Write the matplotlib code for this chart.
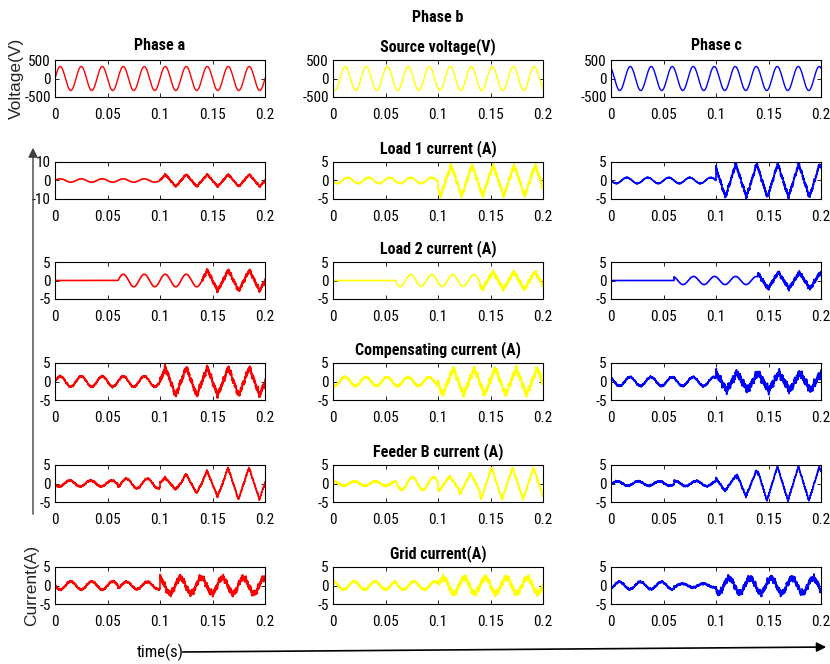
import numpy as np
import matplotlib
matplotlib.use('Agg')
import matplotlib.pyplot as plt
from matplotlib.patches import FancyArrowPatch

plt.rcParams['font.family'] = ['Roboto Condensed', 'Liberation Sans', 'DejaVu Sans']

###############################################################################
#                                    Data                                     #
###############################################################################
# Each trace is a list of segments:
# (start time [s], amplitude, phase [deg], ripple amplitude, wave shape)
f_line   = 50                                                                   # Line frequency (Hz)
t_end    = 0.2
x_ticks  = [0, 0.05, 0.1, 0.15, 0.2]
x_labels = ['0', '0.05', '0.1', '0.15', '0.2']

volt_a = [(0.0, 325, 0, 0.0, 'sin')]
volt_b = [(0.0, 325, -120, 0.0, 'sin')]
volt_c = [(0.0, 325, 120, 0.0, 'sin')]

load1_a = [(0.0, 0.9, 0, 0.1, 'sin'), (0.1, 3.3, 0, 0.7, 'tri')]
load1_b = [(0.0, 0.8, -160, 0.1, 'sin'), (0.1, 4.2, -135, 0.9, 'tri')]
load1_c = [(0.0, 0.8, 180, 0.1, 'sin'), (0.1, 4.5, 110, 0.9, 'tri')]

load2_a = [(0.0, 0.0, 0, 0.0, 'sin'), (0.06, 1.7, 0, 0.0, 'sin'), (0.14, 2.8, 0, 0.8, 'tri')]
load2_b = [(0.0, 0.0, 0, 0.0, 'sin'), (0.06, 1.6, -162, 0.0, 'sin'), (0.14, 2.4, -130, 0.8, 'tri')]
load2_c = [(0.0, 0.0, 0, 0.0, 'sin'), (0.06, 1.1, 115, 0.0, 'sin'), (0.14, 2.2, 100, 0.8, 'tri')]

comp_a = [(0.0, 1.4, 0, 0.35, 'sin'), (0.1, 3.8, 0, 1.2, 'tri')]
comp_b = [(0.0, 1.2, -115, 0.35, 'sin'), (0.1, 3.6, -170, 1.2, 'tri')]
comp_c = [(0.0, 1.2, 125, 0.35, 'sin'), (0.1, 2.4, 90, 1.5, 'tri')]

feeder_a = [(0.0, 0.8, -162, 0.3, 'sin'), (0.06, 1.3, -54, 0.3, 'sin'), (0.1, 1.6, 5, 0.4, 'tri'),
            (0.12, 2.6, 5, 0.4, 'tri'), (0.14, 3.5, 5, 0.4, 'tri'), (0.16, 4.3, 5, 0.4, 'tri')]
feeder_b = [(0.0, 0.6, 85, 0.3, 'sin'), (0.06, 1.7, 170, 0.3, 'sin'), (0.1, 2.0, -108, 0.4, 'tri'),
            (0.12, 2.8, -108, 0.4, 'tri'), (0.14, 4.3, -108, 0.4, 'tri')]
feeder_c = [(0.0, 0.6, -18, 0.3, 'sin'), (0.06, 0.7, 70, 0.3, 'sin'), (0.1, 2.0, 117, 0.4, 'tri'),
            (0.12, 3.5, 117, 0.4, 'tri'), (0.14, 4.6, 117, 0.4, 'tri')]

grid_a = [(0.0, 1.1, 180, 0.35, 'sin'), (0.06, 1.0, -54, 0.35, 'sin'), (0.1, 2.1, 100, 1.2, 'sin')]
grid_b = [(0.0, 1.1, 90, 0.35, 'sin'), (0.06, 1.1, 144, 0.35, 'sin'), (0.1, 2.1, 0, 1.1, 'sin')]
grid_c = [(0.0, 1.0, -54, 0.35, 'sin'), (0.06, 0.5, -54, 0.35, 'sin'), (0.1, 2.0, -135, 1.2, 'sin')]

row_titles = ['Source voltage(V)', 'Load 1 current (A)', 'Load 2 current (A)',
              'Compensating current (A)', 'Feeder B current (A)', 'Grid current(A)']
col_titles = ['Phase a', None, 'Phase c']
y_limits   = [[500, 500, 500], [10, 5, 5], [5, 5, 5], [5, 5, 5], [5, 5, 5], [5, 5, 5]]
traces     = [[volt_a, volt_b, volt_c],
              [load1_a, load1_b, load1_c],
              [load2_a, load2_b, load2_c],
              [comp_a, comp_b, comp_c],
              [feeder_a, feeder_b, feeder_c],
              [grid_a, grid_b, grid_c]]
colors     = ['#ff0000', '#ffff00', '#0000ff']

###############################################################################
#                                 Waveforms                                   #
###############################################################################
t = np.linspace(0, t_end, 8001)

def build_trace(segments):
    y = np.zeros_like(t)
    starts = [s[0] for s in segments] + [t_end + 1]
    for i, (t0, amp, ph, rip, shape) in enumerate(segments):
        m = (t >= t0) & (t < starts[i + 1])
        tm = t[m]
        theta = 2*np.pi*f_line*tm + np.deg2rad(ph)
        if shape == 'tri':
            base = 2/np.pi*np.arcsin(np.sin(theta))
        else:
            base = np.sin(theta)
        # inverter switching ripple: a few slow wiggles plus fast fuzz
        switching = (0.22*np.sin(2*np.pi*270*tm + 0.3) + 0.18*np.sin(2*np.pi*430*tm + 1.1)
                     + 0.10*np.sin(2*np.pi*610*tm + 2.0)
                     + 0.30*np.sin(2*np.pi*1150*tm) + 0.20*np.sin(2*np.pi*3700*tm + 0.7))
        y[m] = amp*base + rip*switching
    return y

###############################################################################
#                                   Figure                                    #
###############################################################################
W, H = 830, 664
fig = plt.figure(figsize=(W/100, H/100), dpi=100)

col_left = [55, 333, 611]
row_top  = [60, 162, 262, 363, 465, 567]
ax_w, ax_h = 210, 37

for r in range(6):
    for c in range(3):
        ax = fig.add_axes([col_left[c]/W, 1 - (row_top[r] + ax_h)/H, ax_w/W, ax_h/H])
        lw = 1.0 if r == 0 else 1.2
        ax.plot(t, build_trace(traces[r][c]), color=colors[c], linewidth=lw)
        lim = y_limits[r][c]
        ax.set_xlim(0, t_end)
        ax.set_ylim(-lim, lim)
        ax.set_xticks(x_ticks)
        ax.set_xticklabels(x_labels)
        ax.set_yticks([-lim, 0, lim])
        ax.set_yticklabels([str(-lim), '0', str(lim)])
        ax.tick_params(direction='in', top=True, right=True, length=3, width=0.6,
                       labelsize=11)
        ax.tick_params(axis='x', pad=8)
        ax.tick_params(axis='y', pad=3)
        for sp in ax.spines.values():
            sp.set_linewidth(0.8)
        if r == 0 and col_titles[c] is not None:
            ax.set_title(col_titles[c], fontsize=11.5, fontweight='bold', pad=7)
        if c == 1:
            ax.set_title(row_titles[r], fontsize=11.5, fontweight='bold', pad=6)

fig.text(438/W, 1 - 18/H, 'Phase b', ha='center', va='center', fontsize=11.5,
         fontweight='bold')

# Side labels and direction arrows
fig.text(16/W, 1 - 78/H, 'Voltage(V)', rotation=90, ha='center', va='center',
         fontsize=12.5, family='Liberation Sans', color='0.15')
fig.text(32/W, 1 - 585/H, 'Current(A)', rotation=90, ha='center', va='center',
         fontsize=12.5, family='Liberation Sans', color='0.15')
fig.text(160/W, 1 - 652/H, 'time(s)', ha='center', va='center', fontsize=12)

fig.patches.append(FancyArrowPatch((33/W, 1 - 517/H), (33/W, 1 - 145/H),
                                   transform=fig.transFigure, arrowstyle='-|>',
                                   mutation_scale=14, color='0.25', linewidth=1.0))
fig.patches.append(FancyArrowPatch((180/W, 1 - 652/H), (829/W, 1 - 647/H),
                                   transform=fig.transFigure, arrowstyle='-|>',
                                   mutation_scale=14, color='black', linewidth=1.2))

fig.savefig('out.png', dpi=100)
